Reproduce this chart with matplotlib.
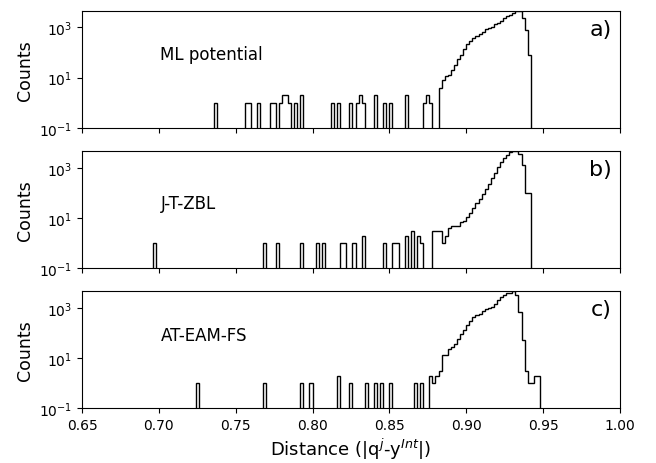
"""Distance histograms (log counts) for three interatomic potentials."""

import numpy as np
import matplotlib
matplotlib.use("Agg")
import matplotlib.pyplot as plt
from matplotlib.ticker import NullLocator

# bin grid of the histograms
BIN_LO, BIN_HI, BIN_W = 0.65, 1.0, 0.002

# ---- a) ML potential ------------------------------------------------------
ml_tail_x = [0.736, 0.756, 0.758, 0.764, 0.772, 0.774, 0.778, 0.780, 0.782, 0.784,
             0.788, 0.792, 0.812, 0.816, 0.824, 0.828, 0.830, 0.832, 0.840, 0.846,
             0.850, 0.860, 0.872, 0.874, 0.876]
ml_tail_n = [1, 1, 1, 1, 1, 1, 1, 2, 2, 1,
             1, 2, 1, 1, 1, 1, 2, 1, 2, 1,
             1, 2, 1, 2, 1]
ml_body_start = 0.882
ml_body_n = [4, 8, 12, 13, 21, 33, 56, 83, 132, 210, 285, 370, 450, 560, 650,
             830, 960, 1070, 1320, 1550, 1780, 2290, 2700, 3020, 3870, 4300,
             4440, 2400, 760, 78]

# ---- b) J-T-ZBL -----------------------------------------------------------
jt_tail_x = [0.696, 0.768, 0.776, 0.792, 0.802, 0.806, 0.818, 0.820, 0.826, 0.832,
             0.846, 0.852, 0.854, 0.860, 0.864, 0.868, 0.870]
jt_tail_n = [1, 1, 1, 1, 1, 1, 1, 1, 1, 2,
             1, 1, 1, 2, 3, 2, 1]
jt_body_start = 0.878
jt_body_n = [3, 3, 3, 1, 2, 4, 5, 5, 5, 7, 8, 11, 16, 25, 40, 62, 95, 150,
             230, 400, 650, 1100, 1800, 2700, 3400, 4370, 4900, 4900, 3630,
             1360, 100, 100]

# ---- c) AT-EAM-FS ---------------------------------------------------------
at_tail_x = [0.724, 0.768, 0.792, 0.798, 0.816, 0.824, 0.834, 0.840, 0.844, 0.850,
             0.866, 0.870]
at_tail_n = [1, 1, 1, 1, 2, 1, 1, 1, 1, 1,
             1, 1]
at_body_start = 0.876
at_body_n = [2, 1, 2, 3, 13, 13, 23, 28, 37, 59, 94, 135, 214, 295, 437, 510,
             590, 740, 940, 1000, 1100, 1480, 2040, 2750, 3390, 4070, 4200,
             4650, 3240, 690, 51, 3, 1, 1, 2, 2]

names = ["ML potential", "J-T-ZBL", "AT-EAM-FS"]
tags = ["a)", "b)", "c)"]


def bin_counts(edges, tail_x, tail_n, body_start, body_n):
    n = np.zeros(len(edges) - 1)
    for x, c in zip(tail_x, tail_n):
        n[int(round((x - BIN_LO) / BIN_W))] = c
    i0 = int(round((body_start - BIN_LO) / BIN_W))
    n[i0:i0 + len(body_n)] = body_n
    return n


def main():
    edges = np.round(np.arange(BIN_LO, BIN_HI + 1e-9, BIN_W), 4)
    panels = [
        bin_counts(edges, ml_tail_x, ml_tail_n, ml_body_start, ml_body_n),
        bin_counts(edges, jt_tail_x, jt_tail_n, jt_body_start, jt_body_n),
        bin_counts(edges, at_tail_x, at_tail_n, at_body_start, at_body_n),
    ]
    text_y = [0.63, 0.555, 0.63]

    fig, axes = plt.subplots(3, 1, figsize=(6.56, 4.64), dpi=100, sharex=True)
    fig.subplots_adjust(left=0.125, right=0.945, bottom=0.118, top=0.974, hspace=0.2)

    for ax, n, name, tag, ty in zip(axes, panels, names, tags, text_y):
        ax.hist(edges[:-1], bins=edges, weights=n, histtype="step",
                color="k", lw=1.0, log=True)
        ax.set_ylim(0.1, n.max())
        ax.set_yticks([1e-1, 1e1, 1e3])
        ax.yaxis.set_minor_locator(NullLocator())
        ax.set_ylabel("Counts", fontsize=12.5)
        ax.tick_params(labelsize=10)
        # name placed at a distance on x, fraction of axes height on y
        ax.text(0.701, ty, name, transform=ax.get_xaxis_transform(),
                fontsize=12, va="center", ha="left")
        ax.text(0.985, 0.85, tag, transform=ax.transAxes,
                fontsize=16, va="center", ha="right")

    axes[-1].set_xlim(0.65, 1.0)
    axes[-1].set_xlabel(r"Distance (|q$^{j}$-y$^{Int}$|)", fontsize=13, labelpad=3)

    fig.savefig("out.png", dpi=100)
    plt.close(fig)


if __name__ == "__main__":
    main()
